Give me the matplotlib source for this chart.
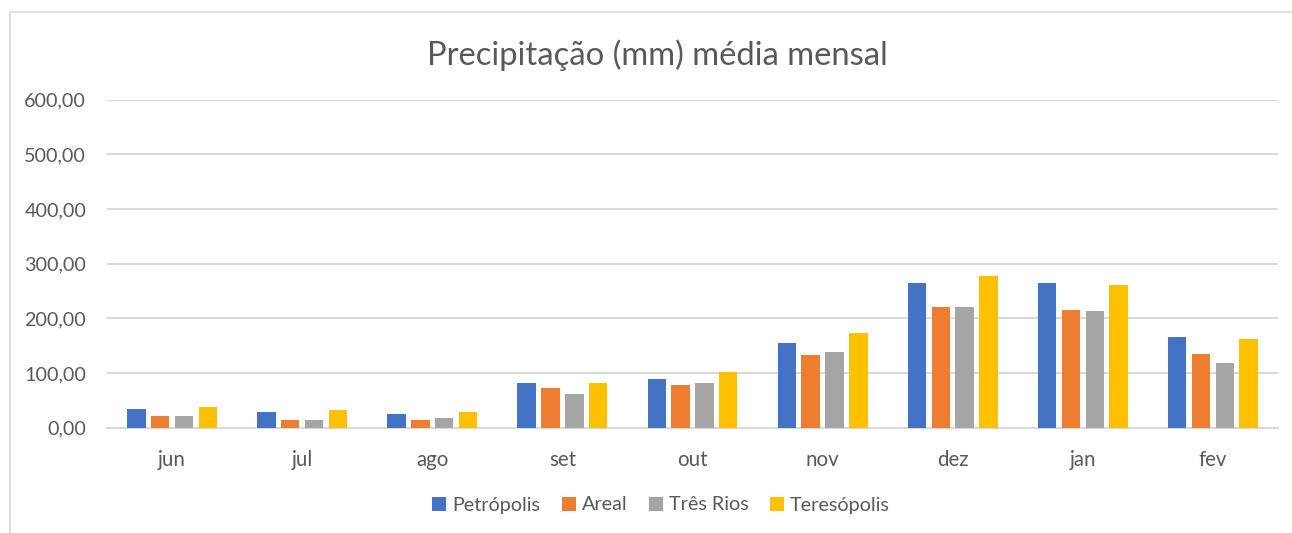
import numpy as np
import matplotlib
matplotlib.use('Agg')
import matplotlib.pyplot as plt
from matplotlib.patches import Rectangle

plt.rcParams['font.family'] = ['Lato', 'DejaVu Sans']

meses = ['jun', 'jul', 'ago', 'set', 'out', 'nov', 'dez', 'jan', 'fev']
series = ['Petrópolis', 'Areal', 'Três Rios', 'Teresópolis']
petropolis = [34.7, 28.7, 25.0, 81.8, 88.6, 155.3, 263.8, 263.8, 165.8]
areal = [21.4, 14.6, 14.6, 72.0, 78.0, 132.7, 219.7, 216.0, 135.1]
tres_rios = [21.4, 14.6, 18.3, 61.6, 81.8, 138.8, 219.7, 212.9, 118.6]
teresopolis = [37.8, 31.8, 28.7, 81.8, 102.0, 172.4, 276.7, 260.1, 162.1]
cores = ['#4472C4', '#ED7D31', '#A5A5A5', '#FFC000']

txt = '#595959'
fig = plt.figure(figsize=(12.92, 5.33), dpi=100)
ax = fig.add_axes([107 / 1292, (533 - 427.6) / 533, (1278 - 107) / 1292, (427.6 - 99.6) / 533])

# moldura do gráfico (sem borda inferior/direita visível)
fig.patches.append(Rectangle((10 / 1292, -0.1), 1.2, (533 - 12) / 533 + 0.1,
                             transform=fig.transFigure, fill=False,
                             edgecolor='#D9D9D9', linewidth=1.2))

x = np.arange(len(meses))
largura = 0.142
passo = 0.183
dados = [petropolis, areal, tres_rios, teresopolis]
for i, (nome, vals, cor) in enumerate(zip(series, dados, cores)):
    ax.bar(x + (i - 1.5) * passo, vals, largura, color=cor, label=nome, zorder=3)

ax.set_xlim(-0.5, len(meses) - 0.5)
ax.set_ylim(0, 600)
ax.set_yticks(range(0, 601, 100))
ax.set_yticklabels([f'{v},00' for v in range(0, 601, 100)], fontsize=14.2, color=txt)
ax.set_xticks(x)
ax.set_xticklabels(meses, fontsize=14.8, color=txt)
ax.tick_params(length=0, pad=15, axis='y')
ax.tick_params(length=0, pad=16, axis='x')
ax.grid(axis='y', color='#D9D9D9', linewidth=1.5, zorder=0)
for s in ['top', 'right', 'left']:
    ax.spines[s].set_visible(False)
ax.spines['bottom'].set_color('#D9D9D9')
ax.spines['bottom'].set_linewidth(1.5)

fig.text(657 / 1292, 1 - 55 / 533, 'Precipitação (mm) média mensal', fontsize=23.6,
         color=txt, ha='center', va='center')

fig.legend(loc='center', bbox_to_anchor=(661 / 1292, 1 - 505 / 533), ncol=4, frameon=False,
           fontsize=14.2, labelcolor=txt, handlelength=0.7, handleheight=0.7,
           handletextpad=0.3, columnspacing=1.1)

fig.savefig('out.png', dpi=100, facecolor='white')
